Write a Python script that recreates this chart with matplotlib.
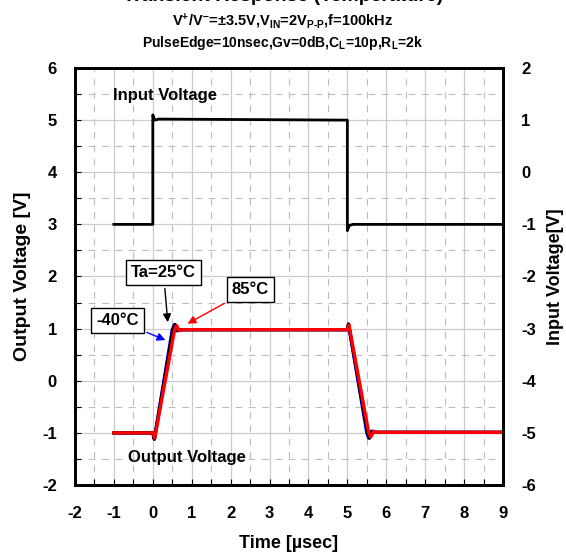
import matplotlib
matplotlib.use("Agg")
import matplotlib.pyplot as plt
from matplotlib.ticker import MultipleLocator

plt.rcParams['font.family'] = ['Liberation Sans', 'DejaVu Sans']
plt.rcParams['font.weight'] = 'bold'
plt.rcParams['axes.unicode_minus'] = False
plt.rcParams['mathtext.fontset'] = 'custom'
plt.rcParams['mathtext.rm'] = 'Liberation Sans:bold'
plt.rcParams['mathtext.default'] = 'rm'

# Input pulse (right axis)
t_in = [-1.0, 0.0, 0.0, 0.05, 0.15, 5.0, 5.0, 5.05, 5.15, 9.0]
v_in = [-1.0, -1.0, 1.1, 1.0, 1.02, 1.0, -1.12, -1.02, -1.0, -1.0]

# Output response at three temperatures (left axis)
t_m40 = [-1.0, 0.0, 0.04, 0.5, 0.55, 0.61, 0.7, 5.0, 5.03, 5.5, 5.55, 5.62, 5.72, 9.0]
v_m40 = [-1.0, -1.0, -1.12, 0.98, 1.07, 0.96, 0.98, 0.98, 1.08, -1.0, -1.1, -0.97, -0.99, -0.99]
t_25 = [-1.0, 0.0, 0.04, 0.52, 0.57, 0.63, 0.72, 5.0, 5.03, 5.52, 5.57, 5.64, 5.74, 9.0]
v_25 = [-1.0, -1.0, -1.12, 0.98, 1.08, 0.96, 0.98, 0.98, 1.09, -1.0, -1.1, -0.97, -0.99, -0.99]
t_85 = [-1.0, 0.0, 0.05, 0.56, 0.61, 0.68, 0.77, 5.0, 5.04, 5.55, 5.6, 5.68, 5.78, 9.0]
v_85 = [-1.0, -1.0, -1.1, 0.98, 1.06, 0.96, 0.98, 0.98, 1.07, -1.0, -1.08, -0.97, -0.99, -0.99]

x_ticks = list(range(-2, 10))
left_ticks = list(range(-2, 7))
right_ticks = list(range(-6, 3))

fig = plt.figure(figsize=(5.66, 5.56), dpi=100)
ax = fig.add_axes([0.1325, 0.1277, 0.7562, 0.75])
ax2 = ax.twinx()

ax.set_xlim(-2, 9)
ax.set_ylim(-2, 6)
ax2.set_ylim(-6, 2)
ax.set_xticks(x_ticks)
ax.set_yticks(left_ticks)
ax2.set_yticks(right_ticks)
ax.xaxis.set_minor_locator(MultipleLocator(0.5))
ax.yaxis.set_minor_locator(MultipleLocator(0.5))

ax.grid(True, which='major', color='#cccccc', lw=0.9, ls='-')
ax.grid(True, which='minor', color='#bbbbbb', lw=0.8, ls=(0, (6, 6)))
ax.set_axisbelow(True)

ax.tick_params(which='both', direction='in', labelsize=12, length=4, width=0.8)
ax.tick_params(axis='x', pad=15)
ax.tick_params(axis='y', pad=13)
ax2.tick_params(direction='in', labelsize=12, length=0, pad=13)
for s in ax.spines.values():
    s.set_linewidth(2)
for s in ax2.spines.values():
    s.set_linewidth(2)

ax2.plot(t_in, v_in, color='black', lw=2)
ax.plot(t_m40, v_m40, color='#0000ff', lw=2.4)
ax.plot(t_25, v_25, color='black', lw=2.4)
ax.plot(t_85, v_85, color='#ff0000', lw=2.4)

ax.set_xlabel('Time [µsec]', fontsize=13, fontweight='bold', labelpad=10)
ax.set_ylabel('Output Voltage [V]', fontsize=14, fontweight='bold', labelpad=8)
ax2.set_ylabel('Input Voltage[V]', fontsize=13, fontweight='bold', labelpad=8)

ax.text(-1.02, 5.48, 'Input Voltage', fontsize=12, fontweight='bold', va='center')
ax.text(-0.64, -1.47, 'Output Voltage', fontsize=12, fontweight='bold', va='center')

box = dict(boxstyle='square,pad=0.3', fc='white', ec='black', lw=1)
ax.annotate('Ta=25°C', xy=(0.39, 1.07), xytext=(0.275, 2.075), fontsize=12,
            fontweight='bold', ha='center', va='center', bbox=box,
            arrowprops=dict(arrowstyle='-|>', color='black', lw=1))
ax.annotate('85°C', xy=(0.83, 1.07), xytext=(2.51, 1.76), fontsize=12,
            fontweight='bold', ha='center', va='center', bbox=box,
            arrowprops=dict(arrowstyle='-|>', color='red', lw=1))
ax.annotate('-40°C', xy=(0.39, 0.76), xytext=(-0.907, 1.16), fontsize=12,
            fontweight='bold', ha='center', va='center', bbox=box,
            arrowprops=dict(arrowstyle='-|>', color='blue', lw=1))

fig.text(0.5, 1 - 1 / 556, 'Transient Response (Temperature)', fontsize=14,
         fontweight='bold', ha='center', va='baseline')
fig.text(0.5, 1 - 21 / 556, r'V$^{+}$/V$^{-}$=±3.5V,V$_{IN}$=2V$_{P\text{-}P}$,f=100kHz',
         fontsize=10.5, fontweight='bold', ha='center', va='center')
fig.text(0.5, 1 - 43 / 556, r'PulseEdge=10nsec,Gv=0dB,C$_{L}$=10p,R$_{L}$=2k',
         fontsize=10, fontweight='bold', ha='center', va='center')

fig.savefig('out.png', dpi=100)
